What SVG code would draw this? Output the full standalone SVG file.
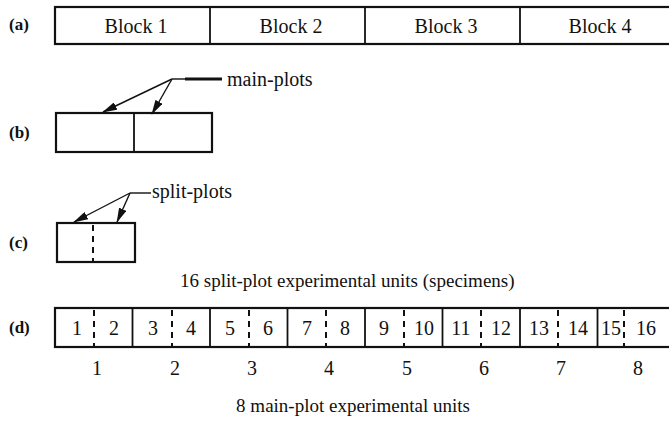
<svg xmlns="http://www.w3.org/2000/svg" width="669" height="425" viewBox="0 0 669 425">
  <style>
    text { font-family: "Liberation Serif", "Times New Roman", serif; fill: #111; }
    .lbl { font-size: 17px; font-weight: bold; }
    .t { font-size: 20px; }
    .cap { font-size: 19px; }
    .box { fill: #fff; stroke: #111; stroke-width: 2.2; }
    .div { stroke: #111; stroke-width: 1.8; }
    .dash { stroke: #111; stroke-width: 2; stroke-dasharray: 6 5; }
    .lead { stroke: #111; stroke-width: 1.4; fill: none; }
  </style>
  <defs>
    <marker id="arrow" viewBox="0 0 15 8" refX="14" refY="4" markerWidth="15" markerHeight="8" markerUnits="userSpaceOnUse" orient="auto">
      <path d="M0,0 L15,4 L0,8 Z" fill="#111"/>
    </marker>
  </defs>
  <rect width="669" height="425" fill="#fff"/>

  <!-- (a) four blocks -->
  <g id="row-a">
    <text class="lbl" x="9" y="30">(a)</text>
    <rect class="box" x="55" y="7" width="620" height="37"/>
    <line class="div" x1="210" y1="7" x2="210" y2="44"/>
    <line class="div" x1="365" y1="7" x2="365" y2="44"/>
    <line class="div" x1="520" y1="7" x2="520" y2="44"/>
    <text class="t" x="136" y="33" text-anchor="middle">Block 1</text>
    <text class="t" x="291" y="33" text-anchor="middle">Block 2</text>
    <text class="t" x="446" y="33" text-anchor="middle">Block 3</text>
    <text class="t" x="600" y="33" text-anchor="middle">Block 4</text>
  </g>

  <!-- (b) one block split into two main plots -->
  <g id="row-b">
    <text class="lbl" x="9" y="138">(b)</text>
    <rect class="box" x="56" y="113" width="156" height="39"/>
    <line class="div" x1="134" y1="113" x2="134" y2="152"/>
  </g>
  <g id="label-main-plots">
    <text class="t" x="227" y="86">main-plots</text>
  </g>

  <!-- (c) one main plot split into two split plots -->
  <g id="row-c">
    <text class="lbl" x="9" y="248">(c)</text>
    <rect class="box" x="57" y="223" width="78" height="39"/>
    <line class="dash" x1="93" y1="225" x2="93" y2="262"/>
  </g>
  <g id="label-split-plots">
    <text class="t" x="152" y="198">split-plots</text>
  </g>

  <g id="caption-split">
    <text class="cap" x="180" y="287">16 split-plot experimental units (specimens)</text>
  </g>

  <!-- (d) eight main plots, sixteen split plots -->
  <g id="row-d">
    <text class="lbl" x="9" y="333">(d)</text>
    <rect class="box" x="55" y="308" width="620" height="39"/>
    <g class="div">
      <line x1="132.5" y1="308" x2="132.5" y2="347"/>
      <line x1="210" y1="308" x2="210" y2="347"/>
      <line x1="287.5" y1="308" x2="287.5" y2="347"/>
      <line x1="365" y1="308" x2="365" y2="347"/>
      <line x1="442.5" y1="308" x2="442.5" y2="347"/>
      <line x1="520" y1="308" x2="520" y2="347"/>
      <line x1="597.5" y1="308" x2="597.5" y2="347"/>
    </g>
    <g class="dash">
      <line x1="94" y1="310" x2="94" y2="347"/>
      <line x1="172" y1="310" x2="172" y2="347"/>
      <line x1="249" y1="310" x2="249" y2="347"/>
      <line x1="326" y1="310" x2="326" y2="347"/>
      <line x1="404" y1="310" x2="404" y2="347"/>
      <line x1="481" y1="310" x2="481" y2="347"/>
      <line x1="558" y1="310" x2="558" y2="347"/>
      <line x1="624" y1="310" x2="624" y2="347"/>
    </g>
    <g class="t" text-anchor="middle">
      <text x="77" y="335">1</text><text x="114" y="335">2</text>
      <text x="153" y="335">3</text><text x="191" y="335">4</text>
      <text x="230" y="335">5</text><text x="268" y="335">6</text>
      <text x="307" y="335">7</text><text x="345" y="335">8</text>
      <text x="384" y="335">9</text><text x="424" y="335">10</text>
      <text x="461" y="335">11</text><text x="501" y="335">12</text>
      <text x="539" y="335">13</text><text x="578" y="335">14</text>
      <text x="611" y="335">15</text><text x="646" y="335">16</text>
    </g>
    <g class="t" text-anchor="middle">
      <text x="97" y="375">1</text><text x="175" y="375">2</text>
      <text x="252" y="375">3</text><text x="329" y="375">4</text>
      <text x="407" y="375">5</text><text x="484" y="375">6</text>
      <text x="561" y="375">7</text><text x="638" y="375">8</text>
    </g>
  </g>

  <g id="caption-main">
    <text class="cap" x="353" y="412" text-anchor="middle">8 main-plot experimental units</text>
  </g>

  <!-- leader lines and arrows -->
  <g id="connectors">
    <line class="lead" x1="172" y1="79" x2="186" y2="79"/>
    <line x1="185" y1="79" x2="222" y2="79" stroke="#111" stroke-width="3"/>
    <line class="lead" x1="172" y1="79" x2="103" y2="112" marker-end="url(#arrow)"/>
    <line class="lead" x1="172" y1="79" x2="152" y2="114" marker-end="url(#arrow)"/>
    <line class="lead" x1="130" y1="193" x2="151" y2="193"/>
    <line class="lead" x1="130" y1="193" x2="74" y2="222" marker-end="url(#arrow)"/>
    <line class="lead" x1="130" y1="193" x2="117" y2="222" marker-end="url(#arrow)"/>
  </g>
</svg>
